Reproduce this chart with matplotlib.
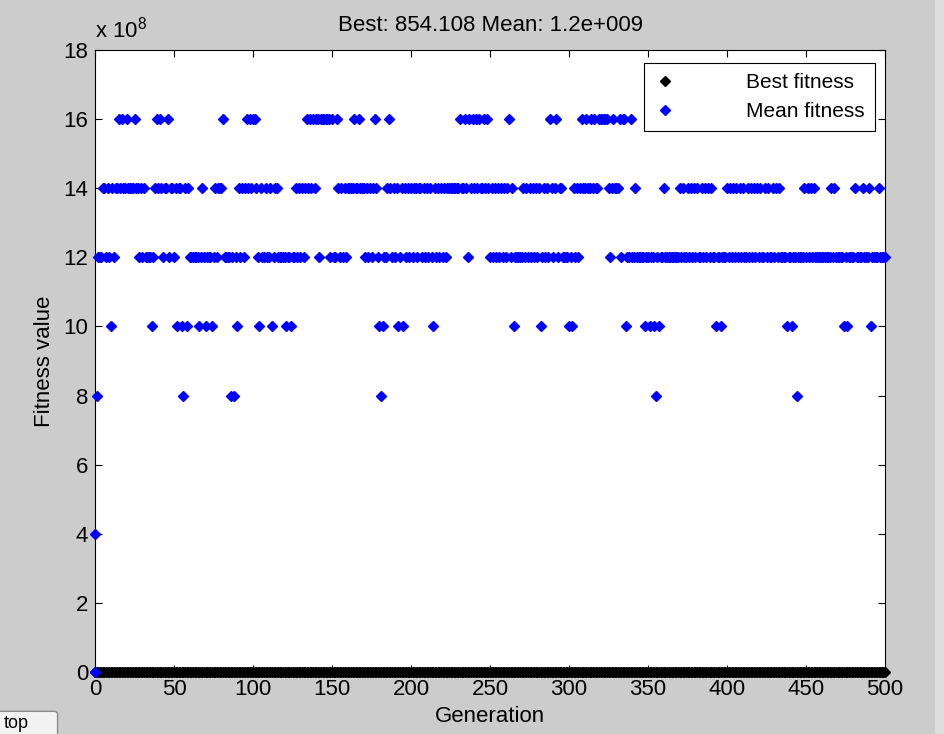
import matplotlib.pyplot as plt
import numpy as np
from matplotlib import font_manager
from matplotlib.patches import FancyBboxPatch, Rectangle

# generations 0..500
n_gen = 501
best_value = 854.108

# dominant level of the mean fitness per stretch of generations
era_start = [0, 341]
era_level = [14e8, 12e8]

# generations where the mean sits on another level
gen_4 = [0]
gen_8 = [1, 56, 86, 88, 181, 355, 444]
gen_10 = [10, 36, 52, 55, 58, 66, 70, 74, 90, 104, 112, 121, 124, 180, 182,
          192, 195, 214, 265, 282, 300, 302, 336, 348, 351, 354, 357, 393,
          396, 438, 441, 474, 476, 491]
gen_12 = [2, 3, 4, 7, 9, 12, 28, 30, 32, 33, 34, 35, 37, 43, 47, 50, 60, 61,
          62, 63, 64, 65, 67, 69, 71, 72, 73, 75, 77, 82, 83, 84, 85, 87, 89,
          92, 94, 103, 106, 107, 109, 110, 113, 116, 117, 118, 119, 120, 122,
          123, 125, 126, 128, 130, 132, 142, 149, 151, 152, 155, 157, 159,
          171, 173, 175, 179, 183, 184, 188, 190, 193, 197, 199, 201, 204,
          207, 209, 211, 213, 216, 218, 220, 222, 236, 250, 252, 254, 256,
          258, 260, 263, 266, 267, 268, 269, 270, 272, 274, 276, 278, 280,
          283, 285, 287, 290, 293, 296, 297, 298, 299, 301, 304, 306, 326,
          333, 337, 338, 340]
gen_14 = [342, 360, 370, 372, 375, 377, 379, 381, 384, 386, 388, 390, 400,
          402, 404, 406, 408, 410, 413, 415, 417, 419, 421, 424, 426, 429,
          431, 433, 449, 451, 453, 455, 466, 468, 481, 486, 490, 496]
gen_16 = [15, 17, 20, 25, 39, 41, 46, 81, 96, 98, 100, 101, 134, 136, 138,
          140, 141, 143, 144, 145, 146, 147, 148, 150, 153, 164, 167, 177,
          186, 231, 234, 237, 239, 241, 243, 246, 248, 262, 288, 292, 308,
          311, 314, 316, 319, 320, 321, 322, 323, 324, 328, 332, 334, 335, 339]
extra_mean = (0, 0.0)   # blue point hidden at the origin

gens = np.arange(n_gen)
mean_fitness = np.zeros(n_gen)
for k, start in enumerate(era_start):
    mean_fitness[start:] = era_level[k]
for lst, lvl in [(gen_12, 12e8), (gen_14, 14e8), (gen_16, 16e8),
                 (gen_10, 10e8), (gen_8, 8e8), (gen_4, 4e8)]:
    mean_fitness[lst] = lvl
best_fitness = np.full(n_gen, best_value)

names = {f.name for f in font_manager.fontManager.ttflist}
if 'Liberation Sans Narrow' in names:
    fam, fs = 'Liberation Sans Narrow', 19
else:
    fam, fs = 'Liberation Sans', 16
plt.rcParams['font.family'] = [fam, 'DejaVu Sans']
plt.rcParams['mathtext.default'] = 'regular'

fig = plt.figure(figsize=(9.44, 7.34), dpi=100, facecolor='#cccccc')
ax = fig.add_axes([95/944, 62/734, 790/944, 622/734])
ax.set_facecolor('white')

ax.plot(gens, best_fitness/1e8, 'kD', ms=5.5, clip_on=False, label='Best fitness', zorder=3)
ax.plot(gens, mean_fitness/1e8, 'bD', ms=5, mec='b', clip_on=False,
        label='Mean fitness', zorder=4)
ax.plot([extra_mean[0]], [extra_mean[1]/1e8], 'bD', ms=5, clip_on=False, zorder=5)

ax.set_xlim(0, 500)
ax.set_ylim(0, 18)
ax.set_xticks(np.arange(0, 501, 50))
ax.set_yticks(np.arange(0, 19, 2))
ax.tick_params(direction='in', length=5, width=0.8, top=True, right=True,
               labelsize=fs, pad=5)
for s in ax.spines.values():
    s.set_linewidth(0.8)

ax.set_xlabel('Generation', fontsize=fs, labelpad=4)
ax.set_ylabel('Fitness value', fontsize=fs, labelpad=6)
ax.set_title('Best: 854.108 Mean: 1.2e+009', fontsize=fs, pad=14)
ax.text(0, 1.012, r'x 10$^8$', transform=ax.transAxes, fontsize=fs,
        ha='left', va='bottom')

leg = ax.legend(loc='upper right', bbox_to_anchor=(0.9873, 0.979), fontsize=fs - 1,
                numpoints=1, handlelength=1.0, handletextpad=3.4,
                borderpad=0.5, labelspacing=0.45, borderaxespad=0,
                fancybox=False, framealpha=1)
leg.get_frame().set_edgecolor('black')
leg.get_frame().set_linewidth(0.8)

# bits of the window around the plot
fig.patches.append(Rectangle((935/944, 0), 9/944, 1, transform=fig.transFigure,
                             facecolor='#dedede', edgecolor='none'))
fig.patches.append(FancyBboxPatch((-0.01, -0.01), 67/944, 30/734,
                                  boxstyle='round,pad=0,rounding_size=0.004',
                                  transform=fig.transFigure, facecolor='#f2f2f2',
                                  edgecolor='#8a8a8a', linewidth=1))
fig.text(4/944, 10/734, 'top', fontsize=fs - 3, ha='left', va='center')

fig.savefig('out.png', dpi=100, facecolor=fig.get_facecolor())
